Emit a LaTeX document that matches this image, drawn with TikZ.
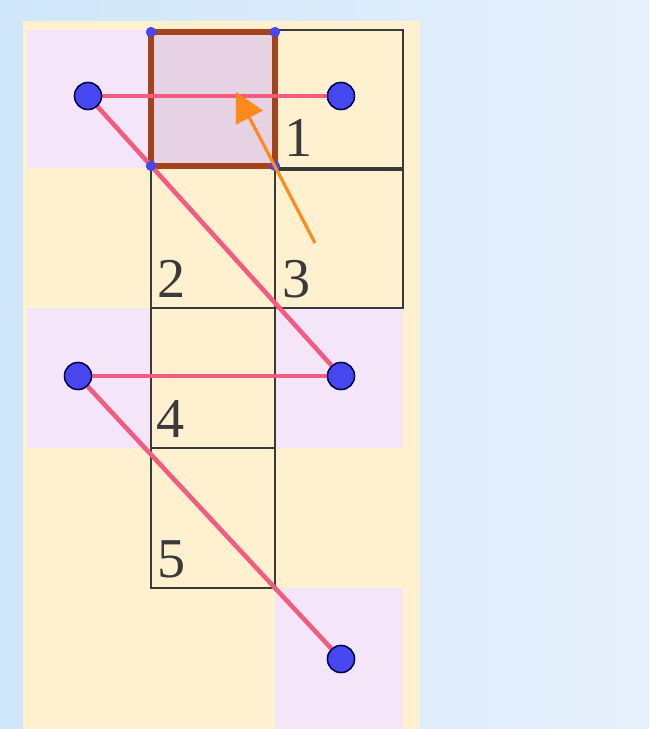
\documentclass[tikz,border=0pt]{standalone}
\usepackage{xcolor}
\usepackage{fontspec}
\setmainfont{Liberation Serif}
\usetikzlibrary{arrows.meta, positioning}
\definecolor{skyblue}{HTML}{D0E6FA}
\definecolor{paleblue}{HTML}{E6F0FB}
\definecolor{cream}{HTML}{FFF1D0}
\definecolor{lavender}{HTML}{F4E5F8}
\definecolor{mauve}{HTML}{E7D2E3}
\definecolor{rust}{HTML}{A3421B}
\definecolor{rose}{HTML}{F25C80}
\definecolor{dotblue}{HTML}{4747F0}
\definecolor{tangerine}{HTML}{FF8A1C}
\definecolor{ink}{HTML}{3A3A3A}

\begin{document}
\begin{tikzpicture}[x=0.02cm, y=-0.02cm]
\tikzstyle{cellbox} = [draw=ink, line width=1.3pt]
\tikzstyle{shadecell} = [fill=lavender]
\tikzstyle{dot} = [circle, fill=dotblue, draw=black!70!blue, line width=0.8pt, minimum size=0.54cm, inner sep=0pt]
\tikzstyle{corner} = [circle, fill=dotblue, minimum size=0.2cm, inner sep=0pt]
\tikzstyle{link} = [rose, line width=2.6pt, shorten <=-2pt, shorten >=-2pt]
\tikzstyle{digit} = [anchor=base west, inner sep=0pt, text=ink, font=\fontsize{32}{32}\selectfont]
\tikzstyle{arrow} = [tangerine, line width=1.8pt, -{Triangle[length=0.58cm, width=0.6cm]}]

% background and panel
\useasboundingbox (0,0) rectangle (649,729);
\shade[left color=skyblue, right color=paleblue] (0,0) rectangle (649,729);
\fill[cream] (23,21) rectangle (420,729);

% shaded cells
\fill[shadecell] (27,30) rectangle (151,168);
\fill[shadecell] (27,308) rectangle (151,448);
\fill[shadecell] (275,308) rectangle (403,448);
\fill[shadecell] (275,588) rectangle (403,729);

% outlined cells
\foreach \x/\y/\w in {275/30/128, 151/168/124, 275/168/128, 151/308/124, 151/448/124}
  \draw[cellbox] (\x,\y) rectangle ++(\w,140);

% highlighted square
\draw[rust, line width=3.6pt, fill=mauve] (151,32) rectangle (275,166);
\node (c1) [corner] at (151,32) {};
\node (c2) [corner] at (275,32) {};
\node (c3) [corner] at (151,166) {};
\node (c4) [corner] at (275,166) {};

% labels
\node (n1) [digit] at (284,157) {1};
\node (n2) [digit] at (157,297) {2};
\node (n3) [digit] at (282,297) {3};
\node (n4) [digit] at (156,437) {4};
\node (n5) [digit] at (157,577) {5};

% dots
\node (a) [dot] at (88,96) {};
\node (b) [dot] at (341,96) {};
\node (c) [dot] at (341,376) {};
\node (d) [dot] at (78,376) {};
\node (e) [dot] at (341,659) {};

\draw [link] (a) -- (b);
\draw [link] (a) -- (c);
\draw [link] (d) -- (c);
\draw [link] (d) -- (e);

% dots again, above the links
\foreach \p in {a, b, c, d, e}
  \node [dot] at (\p) {};
\foreach \p in {c1, c2, c3, c4}
  \node [corner] at (\p) {};

% orange arrow
\coordinate (tail) at (315,243);
\coordinate (head) at (236,92);
\draw [arrow] (tail) -- (head);

\end{tikzpicture}
\end{document}
